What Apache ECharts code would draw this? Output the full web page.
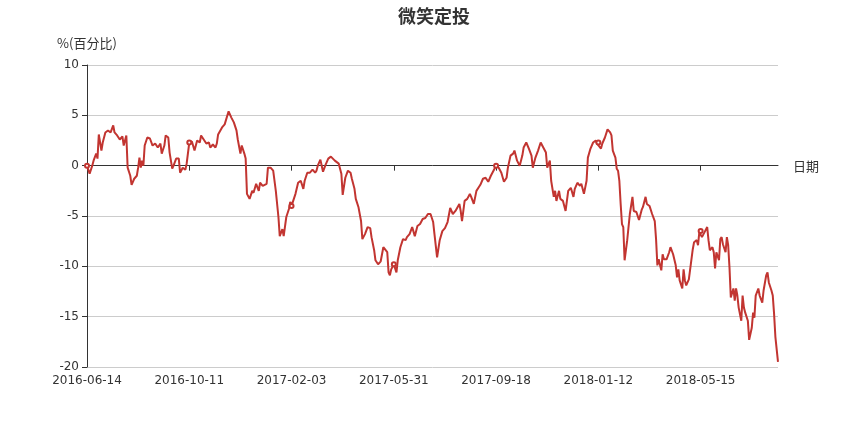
<!DOCTYPE html>
<html>
<head>
<meta charset="utf-8">
<script type="text/javascript" src="https://cdn.jsdelivr.net/npm/echarts@6/dist/echarts.min.js"></script>
<style>html,body{margin:0;padding:0;background:#fff;}</style>
</head>
<body>
<div id="main" style="width:868px;height:433px;"></div>
<script type="text/javascript">
// 横轴上显示的日期
var tickLabels = ['2016-06-14', '2016-10-11', '2017-02-03', '2017-05-31', '2017-09-18', '2018-01-12', '2018-05-15'];
// 交易日总数，每隔多少个交易日标一个日期
var dayCount = 528;
var labelStep = 78;
// 从图上读出来的点：交易日序号 和 收益率(%)
var dayIndex = [0, 2, 4, 5, 7, 8, 9, 11, 12, 14, 16, 18, 20, 21, 23, 25, 27, 28, 30, 31,
  33, 34, 36, 38, 39, 40, 41, 42, 43, 44, 46, 48, 50, 52, 54, 56, 57, 59, 60, 62,
  63, 65, 66, 68, 70, 71, 73, 75, 76, 78, 80, 82, 84, 86, 87, 89, 91, 93, 94, 96,
  98, 99, 100, 103, 105, 106, 108, 110, 112, 114, 115, 117, 118, 120, 121, 122, 124, 126, 127, 129,
  131, 132, 134, 137, 138, 140, 142, 144, 146, 147, 149, 150, 152, 154, 155, 156, 159, 161, 163, 165,
  166, 168, 170, 172, 174, 175, 176, 178, 179, 180, 182, 184, 186, 187, 189, 190, 192, 194, 195, 197,
  199, 201, 202, 204, 205, 207, 209, 210, 212, 214, 216, 217, 219, 220, 222, 224, 226, 227, 229, 230,
  231, 232, 234, 236, 237, 239, 241, 243, 244, 246, 248, 250, 252, 254, 256, 258, 260, 262, 264, 265,
  267, 269, 271, 273, 275, 277, 279, 281, 282, 284, 285, 286, 288, 290, 292, 293, 295, 297, 299, 300,
  302, 304, 306, 308, 310, 312, 314, 316, 318, 320, 321, 323, 325, 326, 328, 330, 332, 333, 335, 337,
  339, 340, 342, 344, 346, 348, 350, 351, 353, 354, 356, 357, 358, 360, 361, 363, 365, 367, 369, 371,
  372, 374, 376, 377, 379, 381, 382, 384, 386, 388, 389, 390, 392, 393, 395, 397, 399, 400, 401, 403,
  404, 405, 406, 407, 408, 409, 410, 412, 414, 416, 417, 419, 421, 423, 424, 426, 427, 429, 431, 433,
  434, 435, 436, 438, 439, 440, 442, 444, 445, 447, 449, 450, 451, 452, 454, 455, 456, 457, 459, 460,
  462, 463, 465, 466, 467, 468, 469, 471, 473, 474, 475, 477, 478, 479, 480, 482, 483, 484, 485, 487,
  488, 489, 490, 491, 493, 494, 495, 496, 497, 499, 500, 501, 502, 504, 505, 507, 508, 509, 510, 512,
  513, 515, 516, 518, 519, 520, 522, 523, 524, 525, 527];
var pctValue = [0.0, -0.8, 0.0, 0.5, 1.2, 0.7, 3.1, 1.5, 2.3, 3.3, 3.5, 3.3, 4.0, 3.3, 3.0, 2.6, 2.9, 2.0, 3.0, -0.2,
  -1.0, -1.9, -1.3, -1.0, -0.2, 0.8, -0.2, 0.5, 0.0, 2.0, 2.8, 2.7, 2.0, 2.2, 1.8, 2.2, 1.2, 2.0, 3.0, 2.8,
  1.3, -0.3, 0.0, 0.7, 0.7, -0.7, -0.2, -0.4, 0.2, 2.3, 2.4, 1.5, 2.5, 2.3, 3.0, 2.6, 2.2, 2.3, 1.8, 2.1,
  1.8, 2.2, 3.1, 3.8, 4.1, 4.0, 5.4, 4.8, 4.3, 3.5, 2.6, 1.2, 2.0, 1.2, 0.7, -2.8, -3.3, -2.5, -2.7, -1.8,
  -2.5, -1.7, -2.0, -1.8, -0.2, -0.2, -0.5, -2.5, -5.1, -7.0, -6.3, -7.0, -5.1, -4.3, -3.6, -4.0, -2.8, -1.7, -1.5, -2.3,
  -1.5, -0.7, -0.7, -0.4, -0.7, -0.5, 0.0, 0.6, 0.0, -0.6, 0.1, 0.7, 0.9, 0.8, 0.5, 0.4, 0.2, -0.8, -2.9, -1.2,
  -0.5, -0.7, -1.3, -2.3, -3.3, -4.1, -5.5, -7.3, -6.8, -6.1, -6.2, -7.1, -8.4, -9.4, -9.8, -9.5, -8.1, -8.0, -8.6, -10.6,
  -10.9, -10.3, -9.8, -10.6, -9.4, -8.1, -7.3, -7.4, -7.1, -6.8, -6.1, -7.0, -6.0, -5.8, -5.3, -5.2, -4.8, -4.8, -5.6, -6.8,
  -9.1, -7.4, -6.5, -6.2, -5.6, -4.2, -4.8, -4.5, -4.5, -3.8, -4.5, -5.5, -3.5, -3.3, -2.8, -3.1, -3.8, -2.5, -2.1, -1.9,
  -1.3, -1.2, -1.6, -1.0, -0.5, 0.0, -0.2, -0.7, -1.6, -1.2, -0.2, 1.0, 1.2, 1.5, 0.5, 0.0, 1.0, 1.8, 2.3, 1.7,
  1.0, -0.2, 0.8, 1.5, 2.3, 1.8, 1.3, -0.2, 0.5, -1.5, -3.1, -2.5, -3.5, -2.5, -3.3, -3.5, -4.5, -2.5, -2.2, -3.1,
  -2.3, -1.7, -2.0, -1.8, -2.8, -1.5, 0.8, 1.7, 2.3, 2.5, 2.2, 2.3, 1.7, 2.2, 2.8, 3.6, 3.3, 3.0, 1.5, 0.8,
  -0.3, -0.5, -1.5, -3.8, -5.8, -6.1, -9.4, -7.4, -4.8, -3.1, -4.5, -4.6, -5.4, -4.4, -4.1, -3.1, -3.8, -4.0, -4.8, -5.5,
  -7.3, -9.9, -9.3, -10.4, -8.8, -9.3, -9.3, -8.6, -8.1, -8.8, -9.9, -11.1, -10.3, -11.4, -12.2, -10.3, -11.4, -11.9, -11.3, -10.3,
  -8.3, -7.6, -7.4, -7.9, -6.6, -6.5, -7.1, -6.6, -6.1, -7.4, -8.4, -8.1, -8.6, -10.2, -8.6, -9.4, -7.3, -7.1, -7.8, -8.6,
  -7.1, -7.9, -10.1, -13.1, -12.2, -13.4, -12.2, -12.9, -14.1, -15.4, -12.9, -14.1, -14.6, -15.4, -17.3, -16.1, -14.6, -15.1, -12.9, -12.2,
  -12.9, -13.6, -12.4, -10.9, -10.6, -11.6, -12.4, -12.9, -14.7, -17.0, -19.5];

var myChart = echarts.init(document.getElementById('main'));

// 类目轴用交易日序号
var days = [];
for (var i = 0; i < dayCount; i++) {
    days.push(String(i));
}
var lineData = dayIndex.map(function (d, i) {
    return [d, pctValue[i]];
});

var option = {
    backgroundColor: '#fff',
    animation: false,
    title: {
        text: '微笑定投',
        left: 'center',
        top: 2,
        textStyle: {
            fontSize: 18,
            fontWeight: 'bold',
            color: '#333',
            fontFamily: 'Noto Sans CJK SC'
        }
    },
    grid: {
        left: 87,
        right: 90,
        top: 65,
        bottom: 66
    },
    xAxis: [
        {
            // 0轴线，带刻度和"日期"
            type: 'category',
            data: days,
            boundaryGap: false,
            position: 'bottom',
            name: '日期',
            nameTextStyle: { color: '#333', fontSize: 13, fontFamily: 'Noto Sans CJK SC' },
            axisLine: { show: true, onZero: true, lineStyle: { color: '#333', width: 1 } },
            axisTick: { show: true, interval: labelStep - 1, length: 5, lineStyle: { color: '#333' } },
            axisLabel: { show: false, interval: labelStep - 1 },
            splitLine: { show: false }
        },
        {
            // 底部的日期标签
            type: 'category',
            data: days,
            boundaryGap: false,
            position: 'bottom',
            axisLine: { show: false, onZero: false },
            axisTick: { show: false },
            axisLabel: {
                interval: labelStep - 1,
                color: '#333',
                fontSize: 12,
                fontFamily: 'DejaVu Sans',
                formatter: function (value, index) {
                    return tickLabels[Math.round(index / labelStep)] || '';
                }
            },
            splitLine: { show: false }
        }
    ],
    yAxis: {
        type: 'value',
        min: -20,
        max: 10,
        interval: 5,
        name: '%(百分比)',
        nameTextStyle: { color: '#333', fontSize: 13, fontFamily: 'Noto Sans CJK SC' },
        axisLine: { show: true, lineStyle: { color: '#333', width: 1 } },
        axisTick: { show: true, length: 5, lineStyle: { color: '#333' } },
        axisLabel: { color: '#333', fontSize: 12, fontFamily: 'DejaVu Sans' },
        splitLine: { show: true, lineStyle: { color: '#ccc', width: 1 } }
    },
    series: [
        {
            name: '微笑定投',
            type: 'line',
            xAxisIndex: 1,
            data: lineData,
            showSymbol: true,
            symbol: 'emptyCircle',
            symbolSize: 4,
            lineStyle: { color: '#c23531', width: 2 },
            itemStyle: { color: '#c23531' }
        }
    ]
};
myChart.setOption(option);
</script>
</body>
</html>
